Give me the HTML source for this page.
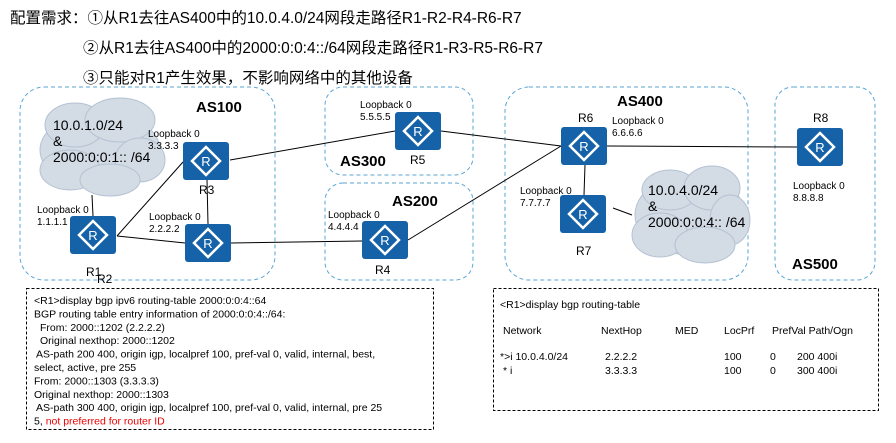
<!DOCTYPE html>
<html><head><meta charset="utf-8"><style>
html,body{margin:0;padding:0;background:#fff}
body{width:896px;height:443px;position:relative;overflow:hidden;font-family:"Liberation Sans","Noto Sans CJK SC",sans-serif}
.t{position:absolute;white-space:nowrap;color:#000}
</style></head><body>
<div class="t" style="left:10px;top:6px;font-size:15.5px">配置需求：①从R1去往AS400中的10.0.4.0/24网段走路径R1-R2-R4-R6-R7</div>
<div class="t" style="left:83px;top:36px;font-size:15.5px">②从R1去往AS400中的2000:0:0:4::/64网段走路径R1-R3-R5-R6-R7</div>
<div class="t" style="left:83px;top:66px;font-size:15.5px">③只能对R1产生效果，不影响网络中的其他设备</div>
<svg width="896" height="443" style="position:absolute;left:0;top:0" font-family="Liberation Sans, sans-serif">
<defs>
<g id="r"><rect x="0" y="0" width="46" height="38" rx="3" fill="#1662a8"/><polygon points="23,5 37,19 23,33 9,19" fill="none" stroke="#fff" stroke-width="2.5"/><text x="23" y="24" font-size="13" fill="#fff" text-anchor="middle">R</text></g>
</defs>
<g fill="none" stroke="#5aa6d6" stroke-width="1" stroke-dasharray="4,3">
<rect x="20" y="87" width="255" height="193" rx="24"/>
<rect x="325" y="87" width="148" height="88" rx="18"/>
<rect x="325" y="183" width="148" height="97" rx="18"/>
<rect x="505" y="87" width="243" height="193" rx="24"/>
<rect x="775" y="87" width="100" height="193" rx="18"/>
</g>
<g fill="#d3dbe5" stroke="#b5c2d2" stroke-width="1">
<ellipse cx="100" cy="150" rx="60" ry="38"/><ellipse cx="75" cy="125" rx="30" ry="22"/><ellipse cx="120" cy="120" rx="35" ry="22"/><ellipse cx="140" cy="160" rx="25" ry="22"/><ellipse cx="70" cy="170" rx="30" ry="20"/><ellipse cx="110" cy="180" rx="30" ry="16"/>
<ellipse cx="690" cy="215" rx="55" ry="40"/><ellipse cx="670" cy="190" rx="28" ry="20"/><ellipse cx="712" cy="188" rx="28" ry="22"/><ellipse cx="730" cy="220" rx="20" ry="25"/><ellipse cx="660" cy="235" rx="28" ry="22"/><ellipse cx="705" cy="245" rx="30" ry="18"/>
</g>
<g stroke="#000" stroke-width="1" fill="none">
<line x1="92" y1="195" x2="93" y2="216"/>
<line x1="117" y1="236" x2="183" y2="162"/>
<line x1="117" y1="236" x2="185" y2="243"/>
<line x1="207" y1="180" x2="208" y2="224"/>
<line x1="230" y1="160" x2="395" y2="131"/>
<line x1="231" y1="243" x2="362" y2="241"/>
<line x1="441" y1="131" x2="561" y2="146"/>
<line x1="408" y1="240" x2="561" y2="146"/>
<line x1="607" y1="146" x2="797" y2="147"/>
<line x1="585" y1="165" x2="584" y2="195"/>
<line x1="613" y1="208" x2="632" y2="215"/>
</g>
<use href="#r" x="70" y="216"/><use href="#r" x="183" y="142"/><use href="#r" x="185" y="224"/>
<use href="#r" x="362" y="221"/><use href="#r" x="395" y="112"/><use href="#r" x="561" y="127"/>
<use href="#r" x="560" y="195"/><use href="#r" x="797" y="128"/>
<g font-size="10" fill="#000">
<text x="37" y="213">Loopback 0</text><text x="37" y="225">1.1.1.1</text>
<text x="148" y="137">Loopback 0</text><text x="148" y="149">3.3.3.3</text>
<text x="149" y="220">Loopback 0</text><text x="149" y="232">2.2.2.2</text>
<text x="328" y="218">Loopback 0</text><text x="328" y="230">4.4.4.4</text>
<text x="360" y="108">Loopback 0</text><text x="360" y="120">5.5.5.5</text>
<text x="612" y="124">Loopback 0</text><text x="612" y="136">6.6.6.6</text>
<text x="520" y="194">Loopback 0</text><text x="520" y="206">7.7.7.7</text>
<text x="793" y="189">Loopback 0</text><text x="793" y="201">8.8.8.8</text>
</g>
<g font-size="12" fill="#000">
<text x="86" y="276">R1</text><text x="97" y="283">R2</text><text x="199" y="194">R3</text>
<text x="375" y="274">R4</text><text x="410" y="164">R5</text><text x="578" y="122">R6</text>
<text x="576" y="255">R7</text><text x="813" y="122">R8</text>
</g>
<g font-size="14" fill="#000">
<text x="53" y="130">10.0.1.0/24</text><text x="53" y="146">&amp;</text><text x="53" y="162">2000:0:0:1:: /64</text>
<text x="648" y="195">10.0.4.0/24</text><text x="648" y="211">&amp;</text><text x="648" y="227">2000:0:0:4:: /64</text>
</g>
<g font-size="15" font-weight="bold" fill="#000">
<text x="196" y="112">AS100</text><text x="340" y="166">AS300</text><text x="392" y="206">AS200</text>
<text x="617" y="106">AS400</text><text x="792" y="269">AS500</text>
</g>
<g fill="none" stroke="#000" stroke-width="1" stroke-dasharray="3,2">
<rect x="26.5" y="288.5" width="407" height="141"/>
<rect x="493.5" y="288.5" width="385" height="122"/>
</g>
<g font-size="10.5" fill="#000">
<text x="34" y="304">&lt;R1&gt;display bgp ipv6 routing-table 2000:0:0:4::64</text>
<text x="34" y="317.4">BGP routing table entry information of 2000:0:0:4::/64:</text>
<text x="40" y="330.8">From: 2000::1202 (2.2.2.2)</text>
<text x="40" y="344.2">Original nexthop: 2000::1202</text>
<text x="36" y="357.6">AS-path 200 400, origin igp, localpref 100, pref-val 0, valid, internal, best,</text>
<text x="34" y="371">select, active, pre 255</text>
<text x="34" y="384.4">From: 2000::1303 (3.3.3.3)</text>
<text x="34" y="397.8">Original nexthop: 2000::1303</text>
<text x="36" y="411.2">AS-path 300 400, origin igp, localpref 100, pref-val 0, valid, internal, pre 25</text>
<text x="34" y="424.6">5, <tspan fill="#e00">not preferred for router ID</tspan></text>
<text x="500" y="308">&lt;R1&gt;display bgp routing-table</text>
<text x="503" y="334">Network</text><text x="601" y="334">NextHop</text><text x="675" y="334">MED</text><text x="724" y="334">LocPrf</text><text x="772" y="334">PrefVal Path/Ogn</text>
<text x="500" y="360">*&gt;i  10.0.4.0/24</text><text x="605" y="360">2.2.2.2</text><text x="724" y="360">100</text><text x="770" y="360">0</text><text x="797" y="360">200 400i</text>
<text x="503" y="374">* i</text><text x="605" y="374">3.3.3.3</text><text x="724" y="374">100</text><text x="770" y="374">0</text><text x="797" y="374">300 400i</text>
</g>
</svg>
</body></html>
